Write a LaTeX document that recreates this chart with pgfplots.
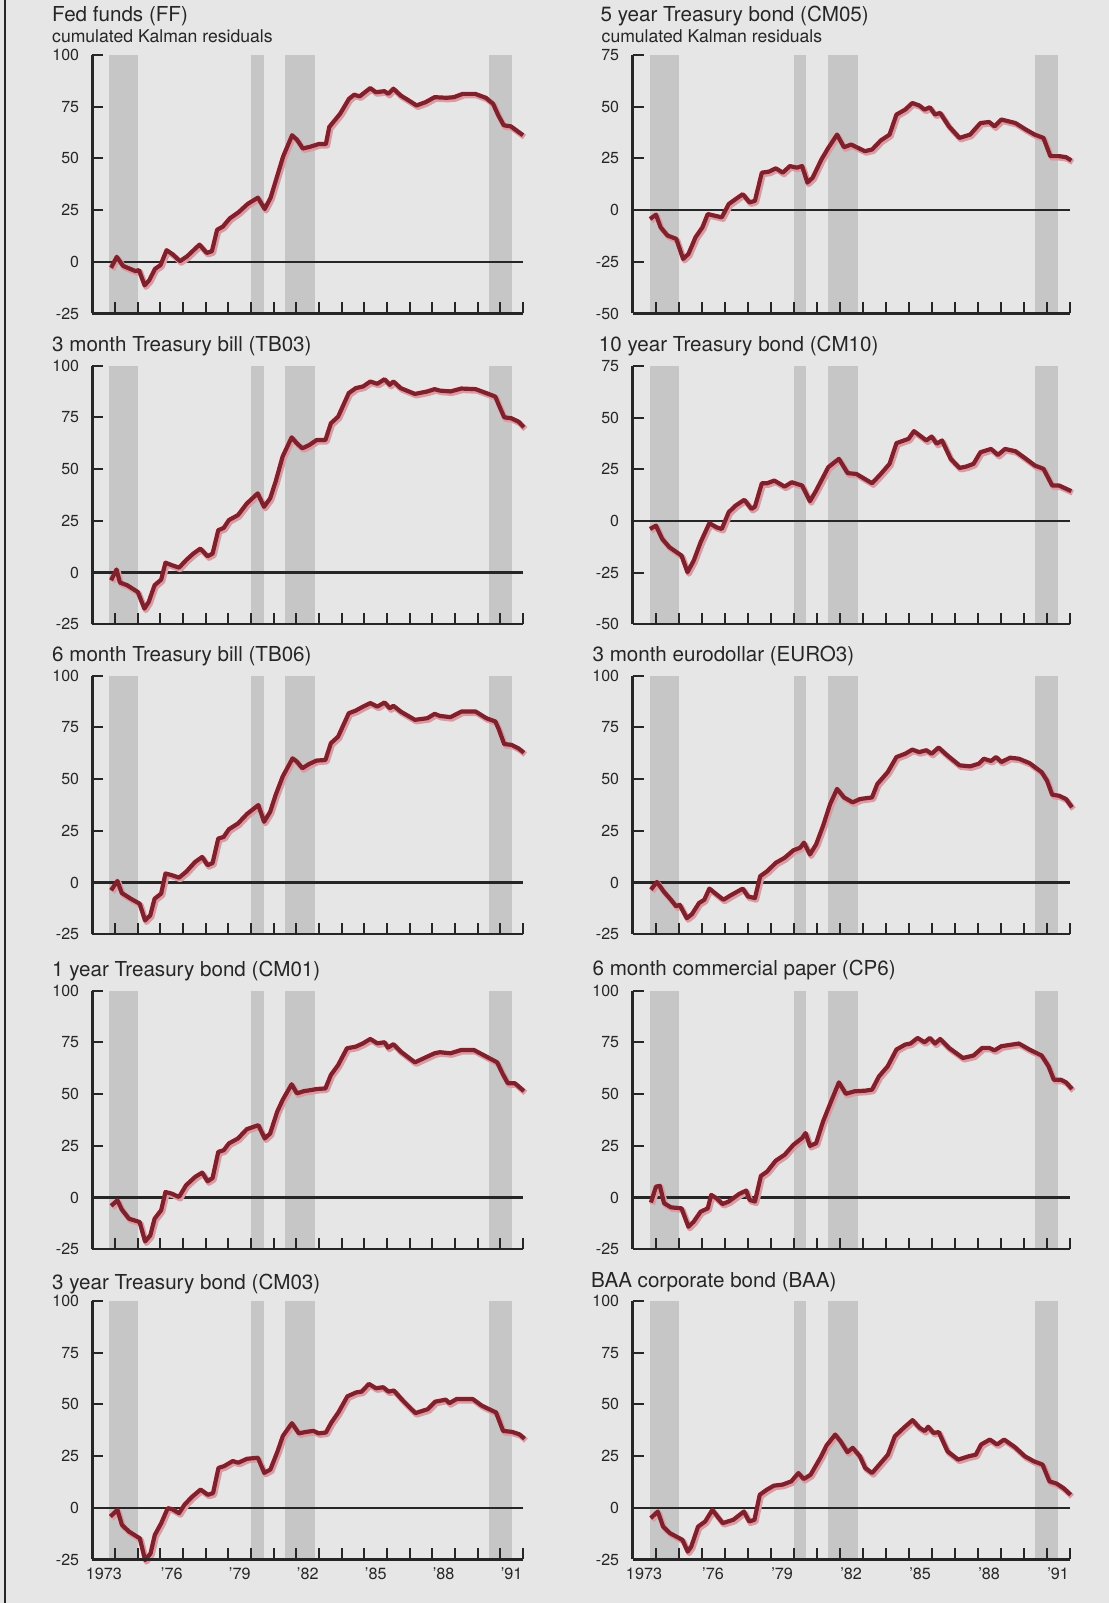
\documentclass[border=0pt]{standalone}
\usepackage{fontspec}
\setmainfont{TeX Gyre Heros}
\usepackage{pgfplots}
\usepackage{pgfplotstable}
\pgfplotsset{compat=1.18}
\definecolor{paper}{RGB}{230,230,230}
\definecolor{band}{RGB}{198,198,198}
\definecolor{ink}{RGB}{38,38,38}
\definecolor{linered}{RGB}{125,34,44}
\definecolor{shadowpink}{RGB}{230,150,160}

\pgfplotstableread{
x y
1973.82 -2.9
1974.07 2.4
1974.35 -2.0
1974.90 -4.5
1975.05 -4.0
1975.30 -11.4
1975.50 -9.0
1975.76 -3.4
1976.00 -1.6
1976.27 5.6
1976.55 3.5
1976.86 0.3
1977.18 2.7
1977.72 8.3
1978.04 4.3
1978.27 5.1
1978.50 15.5
1978.75 17.0
1979.06 21.0
1979.45 24.0
1979.85 28.0
1980.30 31.0
1980.60 25.5
1980.86 31.0
1981.10 39.6
1981.41 50.8
1981.81 61.2
1982.04 58.8
1982.28 54.8
1982.60 55.6
1983.00 57.0
1983.30 56.9
1983.45 65.2
1983.93 71.6
1984.32 78.8
1984.55 80.8
1984.79 80.0
1985.26 84.0
1985.50 82.0
1985.89 82.5
1986.05 81.2
1986.28 83.7
1986.60 80.4
1986.90 78.4
1987.30 75.6
1987.70 77.2
1988.10 79.6
1988.63 79.3
1988.95 79.6
1989.34 81.2
1989.89 81.2
1990.36 79.3
1990.68 76.4
1990.91 70.8
1991.15 66.0
1991.46 65.5
1992.00 61.2
}\ffdata

\pgfplotstableread{
x y
1973.82 -3.7
1974.06 1.5
1974.21 -4.8
1974.53 -6.1
1975.00 -9.4
1975.29 -17.4
1975.48 -14.2
1975.74 -6.1
1976.03 -3.4
1976.22 4.8
1976.50 3.6
1976.82 2.4
1977.13 6.0
1977.45 9.2
1977.76 11.6
1978.08 7.9
1978.30 9.2
1978.55 20.5
1978.79 21.6
1979.02 25.4
1979.42 27.8
1979.81 33.4
1980.29 38.3
1980.57 31.8
1980.84 35.9
1981.08 43.9
1981.39 56.1
1981.79 65.4
1982.02 62.5
1982.26 60.1
1982.57 61.7
1982.89 64.1
1983.28 64.1
1983.52 72.2
1983.84 75.4
1984.31 86.8
1984.62 89.2
1984.94 90.0
1985.26 92.4
1985.57 91.3
1985.89 93.5
1986.12 90.8
1986.28 92.4
1986.60 89.2
1987.23 86.4
1987.78 87.6
1988.10 88.7
1988.33 88.0
1988.80 87.6
1989.28 89.0
1989.91 88.7
1990.38 86.8
1990.78 85.1
1990.93 81.1
1991.17 75.1
1991.49 74.6
1991.80 73.0
1992.04 70.3
}\tbthree

\pgfplotstableread{
x y
1973.82 -3.7
1974.10 0.8
1974.29 -5.0
1974.69 -7.8
1975.08 -10.2
1975.32 -18.3
1975.55 -15.8
1975.74 -7.8
1976.03 -5.3
1976.22 4.4
1976.50 3.6
1976.82 2.4
1977.13 5.2
1977.53 10.0
1977.84 12.4
1978.08 8.4
1978.30 9.5
1978.55 21.3
1978.79 22.1
1979.02 25.8
1979.42 28.6
1979.81 33.1
1980.32 37.5
1980.57 29.4
1980.84 34.2
1981.08 42.3
1981.39 51.2
1981.83 60.1
1982.02 58.5
1982.26 55.3
1982.57 57.4
1982.89 59.0
1983.28 59.3
1983.52 67.4
1983.84 70.6
1984.31 81.9
1984.62 83.2
1984.94 85.1
1985.26 86.8
1985.57 85.1
1985.89 87.1
1986.12 84.3
1986.28 85.5
1986.60 82.7
1987.23 78.7
1987.78 79.5
1988.10 81.6
1988.33 80.6
1988.80 80.0
1989.28 82.7
1989.91 82.7
1990.38 79.5
1990.78 77.9
1990.93 74.2
1991.17 67.0
1991.49 66.6
1991.80 64.9
1992.04 62.8
}\tbsix

\pgfplotstableread{
x y
1973.82 -4.0
1974.10 -1.3
1974.29 -5.7
1974.61 -10.2
1975.08 -11.8
1975.32 -21.2
1975.55 -18.3
1975.74 -10.2
1976.03 -6.1
1976.22 2.7
1976.50 1.9
1976.82 0.3
1977.13 6.0
1977.53 10.0
1977.84 12.1
1978.08 7.9
1978.30 9.5
1978.55 22.1
1978.79 22.9
1979.02 26.2
1979.42 28.6
1979.81 33.1
1980.32 35.0
1980.60 28.6
1980.84 31.0
1981.15 41.5
1981.39 47.2
1981.79 54.8
1982.02 50.4
1982.34 51.5
1982.65 52.0
1982.89 52.5
1983.28 52.8
1983.52 59.3
1983.84 64.1
1984.23 72.2
1984.62 73.0
1984.94 74.6
1985.26 76.7
1985.57 74.6
1985.89 75.1
1986.04 72.5
1986.28 74.2
1986.60 70.6
1987.23 65.4
1987.78 68.2
1988.10 69.8
1988.33 70.3
1988.80 69.8
1989.28 71.4
1989.83 71.4
1990.38 68.2
1990.86 65.4
1991.09 60.1
1991.33 55.3
1991.64 55.3
1992.04 51.5
}\cmone

\pgfplotstableread{
x y
1973.79 -4.2
1974.10 -1.0
1974.30 -8.3
1974.61 -11.5
1975.09 -14.8
1975.32 -25.3
1975.56 -22.1
1975.75 -13.1
1976.03 -7.5
1976.32 -0.2
1976.51 -0.6
1976.82 -2.6
1977.06 1.5
1977.38 5.2
1977.77 8.8
1978.09 6.3
1978.32 7.1
1978.56 19.3
1978.80 20.1
1979.19 22.6
1979.43 21.8
1979.82 23.7
1980.30 24.2
1980.58 16.9
1980.85 18.5
1981.17 27.4
1981.40 34.7
1981.80 40.9
1982.11 36.0
1982.43 36.7
1982.75 37.2
1982.98 36.0
1983.30 36.4
1983.54 41.2
1983.85 46.1
1984.25 53.9
1984.64 55.8
1984.88 56.2
1985.20 59.9
1985.51 57.8
1985.83 58.3
1986.06 56.2
1986.30 56.7
1986.70 51.8
1987.25 45.8
1987.80 47.7
1988.12 51.3
1988.59 52.3
1988.75 50.6
1989.07 52.6
1989.78 52.6
1990.18 49.4
1990.81 46.1
1991.12 37.2
1991.52 36.7
1991.83 35.6
1992.07 33.4
}\cmthree

\pgfplotstableread{
x y
1973.76 -4.3
1974.02 -2.2
1974.22 -8.3
1974.52 -12.3
1974.90 -13.9
1975.20 -23.6
1975.43 -21.2
1975.74 -13.1
1976.04 -8.3
1976.27 -1.9
1976.57 -2.7
1976.88 -3.5
1977.18 2.9
1977.48 5.3
1977.79 7.7
1978.09 3.7
1978.32 4.5
1978.62 18.1
1978.93 18.6
1979.23 20.2
1979.53 18.1
1979.84 21.3
1980.14 20.5
1980.37 21.3
1980.60 13.3
1980.83 15.7
1981.21 24.5
1981.51 30.1
1981.89 36.5
1982.19 30.4
1982.50 31.7
1982.80 30.1
1983.10 28.5
1983.41 29.3
1983.79 33.7
1984.17 36.5
1984.47 46.2
1984.85 48.6
1985.16 51.8
1985.46 50.6
1985.69 48.6
1985.92 49.7
1986.15 46.2
1986.37 47.0
1986.75 40.5
1987.21 34.9
1987.67 36.5
1988.12 42.1
1988.50 42.6
1988.73 40.5
1989.03 43.8
1989.64 42.1
1990.10 38.9
1990.48 36.5
1990.86 34.9
1991.16 26.1
1991.54 26.1
1991.84 25.6
1992.07 24.0
}\cmfive

\pgfplotstableread{
x y
1973.76 -3.9
1974.02 -2.3
1974.29 -8.7
1974.60 -12.7
1975.13 -16.8
1975.39 -24.8
1975.66 -19.2
1975.96 -10.3
1976.34 -1.1
1976.65 -3.1
1976.88 -3.9
1977.18 4.2
1977.48 7.4
1977.86 10.2
1978.17 5.8
1978.32 6.9
1978.62 18.2
1978.85 18.2
1979.16 19.5
1979.61 16.6
1979.92 18.7
1980.37 17.1
1980.71 9.5
1980.98 14.7
1981.51 26.0
1981.97 30.0
1982.35 23.1
1982.73 22.7
1983.41 18.2
1983.79 22.7
1984.17 27.6
1984.47 37.6
1985.00 39.7
1985.23 43.4
1985.77 38.9
1986.00 40.8
1986.22 37.3
1986.45 38.9
1986.83 30.0
1987.21 25.6
1987.51 26.3
1987.82 27.6
1988.12 33.2
1988.58 34.8
1988.88 31.9
1989.19 34.8
1989.64 33.7
1990.10 30.0
1990.48 26.8
1990.86 25.2
1991.24 17.1
1991.54 17.1
1992.07 14.4
}\cmten

\pgfplotstableread{
x y
1973.80 -3.4
1974.06 0.3
1974.37 -4.5
1974.67 -8.3
1974.90 -11.5
1975.05 -10.7
1975.36 -17.2
1975.58 -15.3
1975.89 -9.9
1976.12 -8.3
1976.34 -2.9
1976.57 -5.0
1976.95 -8.3
1977.26 -6.2
1977.79 -2.9
1978.02 -6.7
1978.32 -7.5
1978.55 3.1
1978.85 5.5
1979.23 9.6
1979.61 12.0
1979.99 15.6
1980.29 16.9
1980.45 19.3
1980.71 13.6
1980.98 18.5
1981.28 27.4
1981.59 38.0
1981.89 45.3
1982.19 41.2
1982.57 38.8
1982.88 40.4
1983.41 41.2
1983.64 47.7
1984.09 53.4
1984.47 60.7
1984.85 62.3
1985.16 64.3
1985.46 63.1
1985.77 64.0
1986.00 62.3
1986.30 65.3
1986.68 61.5
1987.21 56.7
1987.67 56.2
1988.05 57.5
1988.27 59.9
1988.58 58.8
1988.80 60.7
1989.03 58.3
1989.41 60.4
1989.79 59.9
1990.25 57.8
1990.78 53.4
1991.01 49.4
1991.24 42.5
1991.54 42.0
1991.84 40.4
1992.10 36.4
}\euro

\pgfplotstableread{
x y
1973.80 -2.4
1974.02 5.3
1974.19 5.7
1974.37 -2.7
1974.67 -4.7
1975.13 -5.2
1975.43 -14.1
1975.66 -11.6
1975.96 -6.8
1976.27 -5.2
1976.42 1.3
1976.65 -0.3
1976.91 -3.1
1977.18 -1.9
1977.64 1.8
1977.94 3.4
1978.09 -1.1
1978.32 -1.9
1978.58 10.5
1978.85 12.6
1979.23 17.9
1979.61 20.7
1979.99 25.5
1980.37 28.8
1980.52 31.2
1980.71 25.0
1980.98 26.3
1981.28 36.8
1981.66 47.3
1981.97 55.7
1982.27 50.2
1982.65 51.4
1983.11 51.7
1983.41 52.2
1983.71 58.6
1984.09 63.5
1984.47 71.6
1984.85 74.0
1985.08 74.5
1985.39 77.2
1985.69 75.1
1985.92 77.2
1986.15 74.5
1986.37 76.7
1986.75 72.4
1987.36 67.5
1987.82 68.7
1988.20 72.4
1988.50 72.4
1988.73 71.2
1989.03 73.2
1989.79 74.5
1990.25 71.6
1990.78 68.7
1991.08 63.5
1991.31 57.0
1991.62 57.0
1991.84 55.7
1992.10 52.5
}\cpsix

\pgfplotstableread{
x y
1973.79 -5.0
1974.10 -1.8
1974.33 -9.1
1974.63 -12.3
1975.17 -15.5
1975.40 -21.2
1975.55 -18.8
1975.85 -9.1
1976.16 -6.6
1976.47 -1.0
1976.92 -7.4
1977.38 -5.8
1977.84 -1.8
1978.07 -6.6
1978.30 -5.8
1978.53 6.3
1978.83 8.7
1979.14 10.7
1979.52 11.2
1979.90 12.8
1980.21 16.8
1980.44 13.9
1980.74 16.0
1981.20 24.9
1981.43 30.1
1981.81 35.4
1982.04 32.2
1982.34 26.9
1982.57 29.0
1982.88 24.9
1983.11 19.3
1983.41 16.8
1983.79 21.7
1984.10 25.7
1984.40 34.6
1984.79 38.7
1985.17 42.4
1985.47 38.7
1985.70 37.1
1985.85 39.2
1986.08 36.2
1986.31 36.6
1986.69 27.3
1987.15 23.3
1987.61 24.9
1987.92 25.7
1988.15 30.6
1988.53 33.0
1988.84 30.6
1989.15 33.0
1989.61 29.4
1990.05 24.9
1990.44 22.5
1990.82 20.9
1991.12 12.8
1991.43 11.7
1991.73 9.5
1992.04 6.3
}\baa

\newcommand{\bands}[2]{%
  \addplot[fill=band, draw=none] coordinates {(1973.75,#1) (1973.75,#2) (1975.0,#2) (1975.0,#1)} --cycle;
  \addplot[fill=band, draw=none] coordinates {(1980.0,#1) (1980.0,#2) (1980.55,#2) (1980.55,#1)} --cycle;
  \addplot[fill=band, draw=none] coordinates {(1981.5,#1) (1981.5,#2) (1982.8,#2) (1982.8,#1)} --cycle;
  \addplot[fill=band, draw=none] coordinates {(1990.5,#1) (1990.5,#2) (1991.5,#2) (1991.5,#1)} --cycle;
  \addplot[ink, line width=1.2pt] coordinates {(1973,0) (1992,0)};
}
\newcommand{\series}[1]{%
  \addplot[shadowpink, line width=2.8pt, line join=round, xshift=0.7pt, yshift=-0.9pt] table {#1};
  \addplot[linered, line width=2.1pt, line join=round] table {#1};
}

\pgfplotsset{
  panel/.style={
    scale only axis,
    height=129.25pt,
    xmin=1973, xmax=1992,
    axis x line*=bottom, axis y line*=left,
    axis line style={-, line width=1.2pt, ink},
    every tick/.style={ink, line width=1pt},
    tick align=inside,
    major tick length=5.5pt,
    xtick={1974,1975,...,1992}, xticklabels={},
    clip=false,
    axis on top,
    anchor=south west,
    yticklabel style={font=\fontsize{8}{9}\selectfont, text=ink, inner sep=0pt, xshift=-6.5pt},
  },
  std/.style={ymin=-25, ymax=100, ytick={-25,0,25,50,75,100}, yticklabels={-25,0,25,50,75,100}},
  lng/.style={ymin=-50, ymax=75, ytick={-50,-25,0,25,50,75}, yticklabels={-50,-25,0,25,50,75}},
  leftcol/.style={width=215.25pt},
  rightcol/.style={width=218.6pt},
  years/.style={
    extra x ticks={1973.5,1976.5,1979.5,1982.5,1985.5,1988.5,1991.5},
    extra x tick labels={1973,'76,'79,'82,'85,'88,'91},
    extra x tick style={major tick length=0pt,
      xticklabel style={font=\fontsize{8.1}{9}\selectfont, text=ink, inner sep=0pt, anchor=north, yshift=-4pt}},
  },
}

\newcommand{\ttl}[3]{\node[anchor=base west, inner sep=0pt, text=ink, font=\fontsize{10.3}{12}\selectfont] at (#1pt,#2pt) {#3};}
\newcommand{\sub}[3]{\node[anchor=base west, inner sep=0pt, text=ink, font=\fontsize{8.8}{10}\selectfont] at (#1pt,#2pt) {#3};}

\begin{document}
\begin{tikzpicture}
\fill[paper] (0,0) rectangle (554.5pt,801.5pt);
\draw[ink, line width=1pt] (2.6pt,0) -- (2.6pt,801.5pt);

% titles
\ttl{25.9}{790.65}{Fed funds (FF)}
\sub{25.9}{780.15}{cumulated Kalman residuals}
\ttl{25.9}{625.65}{3 month Treasury bill (TB03)}
\ttl{25.9}{470.65}{6 month Treasury bill (TB06)}
\ttl{25.9}{313.15}{1 year Treasury bond (CM01)}
\ttl{25.9}{156.85}{3 year Treasury bond (CM03)}
\ttl{300.15}{790.65}{5 year Treasury bond (CM05)}
\sub{300.65}{780.15}{cumulated Kalman residuals}
\ttl{299.25}{625.65}{10 year Treasury bond (CM10)}
\ttl{296.1}{470.65}{3 month eurodollar (EURO3)}
\ttl{296.1}{313.65}{6 month commercial paper (CP6)}
\ttl{295.4}{157.85}{BAA corporate bond (BAA)}

% left column
\begin{axis}[panel, std, leftcol, at={(46.25pt,644.75pt)}]
\bands{-25}{100}\series{\ffdata}
\end{axis}
\begin{axis}[panel, std, leftcol, at={(46.25pt,489.35pt)}]
\bands{-25}{100}\series{\tbthree}
\end{axis}
\begin{axis}[panel, std, leftcol, at={(46.25pt,334.35pt)}]
\bands{-25}{100}\series{\tbsix}
\end{axis}
\begin{axis}[panel, std, leftcol, at={(46.25pt,176.85pt)}]
\bands{-25}{100}\series{\cmone}
\end{axis}
\begin{axis}[panel, std, leftcol, years, at={(46.25pt,21.75pt)}]
\bands{-25}{100}\series{\cmthree}
\end{axis}

% right column
\begin{axis}[panel, lng, rightcol, at={(316.25pt,644.75pt)}]
\bands{-50}{75}\series{\cmfive}
\end{axis}
\begin{axis}[panel, lng, rightcol, at={(316.25pt,489.35pt)}]
\bands{-50}{75}\series{\cmten}
\end{axis}
\begin{axis}[panel, std, rightcol, at={(316.25pt,334.35pt)}]
\bands{-25}{100}\series{\euro}
\end{axis}
\begin{axis}[panel, std, rightcol, at={(316.25pt,176.85pt)}]
\bands{-25}{100}\series{\cpsix}
\end{axis}
\begin{axis}[panel, std, rightcol, years, at={(316.25pt,21.75pt)}]
\bands{-25}{100}\series{\baa}
\end{axis}

\pgfresetboundingbox
\useasboundingbox (0,0) rectangle (554.5pt,801.5pt);
\end{tikzpicture}
\end{document}
